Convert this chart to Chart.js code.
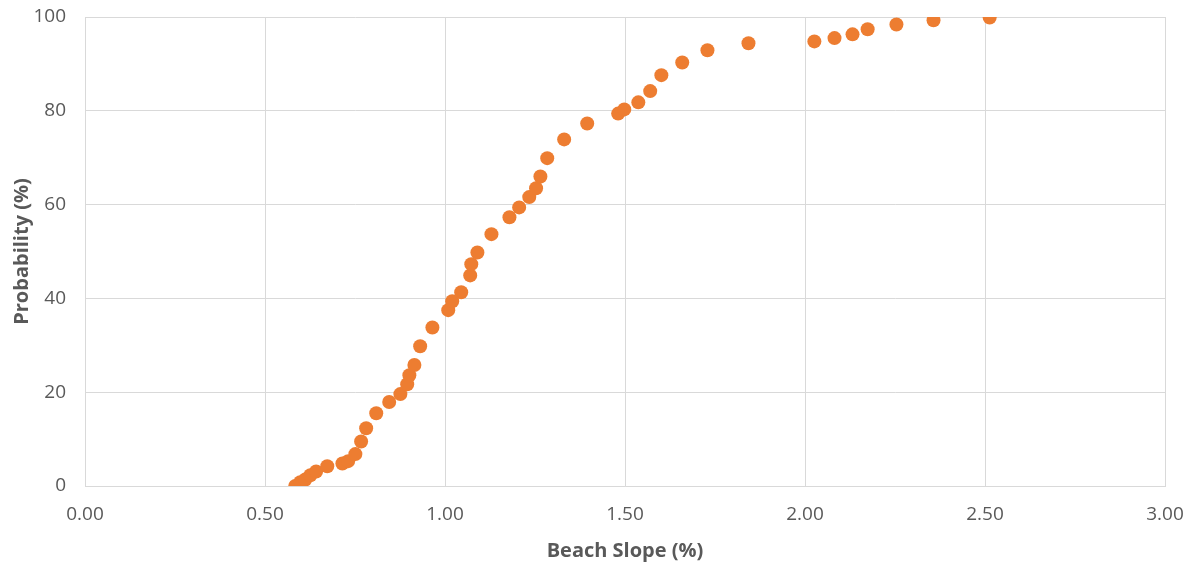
<!DOCTYPE html>
<html>
<head>
<meta charset="utf-8">
<script src="https://cdn.jsdelivr.net/npm/chart.js@4"></script>
<style>
html,body{margin:0;padding:0;background:#fff;}
#wrap{width:1195px;height:567px;}
</style>
</head>
<body>
<div id="wrap"><canvas id="c" width="1195" height="567"></canvas></div>
<script>
const slope = [0.584,0.598,0.612,0.626,0.642,0.673,0.715,0.731,0.751,0.767,0.781,0.809,0.845,0.876,0.895,0.901,0.915,0.931,0.965,1.009,1.020,1.045,1.070,1.073,1.090,1.129,1.179,1.206,1.234,1.253,1.265,1.284,1.331,1.395,1.481,1.498,1.537,1.570,1.601,1.659,1.729,1.843,2.026,2.082,2.132,2.174,2.254,2.357,2.513];
const probability = [0.0,0.8,1.4,2.3,3.1,4.2,4.8,5.3,6.8,9.5,12.3,15.5,17.9,19.6,21.7,23.6,25.8,29.8,33.8,37.5,39.4,41.3,44.9,47.3,49.8,53.7,57.3,59.4,61.6,63.5,66.0,69.9,73.9,77.3,79.4,80.3,81.8,84.2,87.6,90.3,92.9,94.4,94.8,95.5,96.3,97.4,98.4,99.3,99.9];
const xTitle = 'Beach Slope (%)';
const yTitle = 'Probability (%)';

const points = slope.map((x, i) => ({x: x, y: probability[i]}));
const grey = '#595959';
const gridC = '#d9d9d9';
const fam = '"Open Sans", "Liberation Sans", sans-serif';

new Chart(document.getElementById('c'), {
  type: 'scatter',
  data: {
    datasets: [{
      data: points,
      backgroundColor: '#ED7D31',
      borderColor: '#ED7D31',
      borderWidth: 0,
      pointRadius: 7,
      pointHoverRadius: 7
    }]
  },
  options: {
    responsive: false,
    animation: false,
    events: [],
    layout: {padding: {left: 0, right: 30, top: 17, bottom: 0}},
    plugins: {legend: {display: false}, tooltip: {enabled: false}},
    scales: {
      x: {
        type: 'linear', min: 0, max: 3,
        ticks: {stepSize: 0.5, color: grey, font: {family: fam, size: 19}, padding: 17,
          callback: v => Number(v).toFixed(2)},
        grid: {color: gridC, lineWidth: 1, drawTicks: false},
        border: {color: gridC},
        title: {display: true, text: xTitle, color: grey, font: {family: fam, size: 20, weight: 'bold'}, padding: {top: 0, bottom: 4}},
        afterFit: s => { s.height = 81; s.paddingLeft = 0; s.paddingRight = 0; }
      },
      y: {
        type: 'linear', min: 0, max: 100,
        ticks: {stepSize: 20, color: grey, font: {family: fam, size: 19}, padding: 19},
        grid: {color: gridC, lineWidth: 1, drawTicks: false},
        border: {color: gridC},
        title: {display: true, text: yTitle, color: grey, font: {family: fam, size: 20, weight: 'bold'}, padding: {top: 10, bottom: 0}},
        afterFit: s => { s.width = 85; s.paddingTop = 0; s.paddingBottom = 0; }
      }
    }
  }
});
</script>
</body>
</html>
